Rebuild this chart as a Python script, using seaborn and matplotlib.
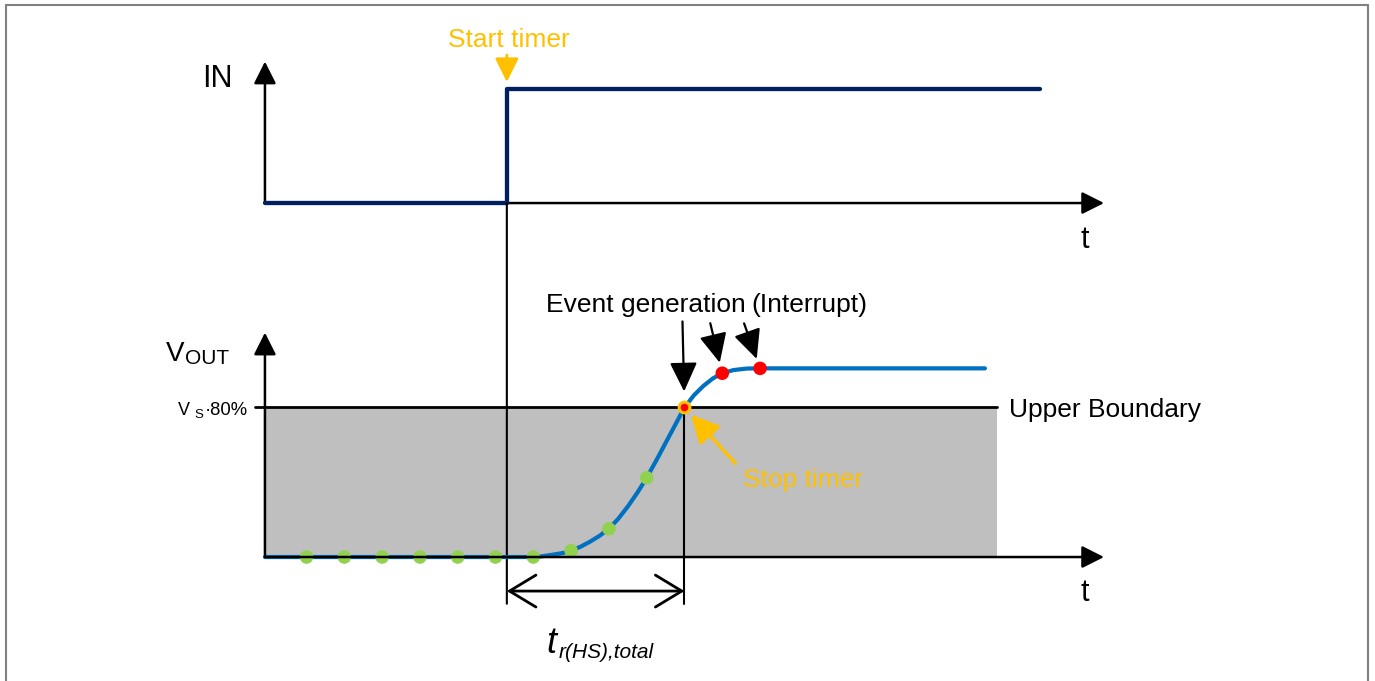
import pandas as pd
import matplotlib
matplotlib.use('Agg')
import matplotlib.pyplot as plt
import matplotlib.transforms as mtransforms
from matplotlib.patches import ConnectionPatch
from matplotlib.lines import Line2D
import seaborn as sns

# IN step signal (time in sample periods, logic level)
in_time = [0.0, 6.4, 6.4, 20.5]
in_level = [0, 0, 1, 1]

# VOUT rising edge (fraction of Vs)
vout_time = [0.0, 7.1, 7.3, 7.6, 7.9, 8.1, 8.35, 8.6, 8.85, 9.1, 9.35, 9.6, 9.85, 10.1,
             10.35, 10.6, 10.85, 11.1, 11.35, 11.6, 11.85, 12.1, 12.4, 12.75, 13.1, 19.05]
vout_level = [0.0, 0.0, 0.003, 0.012, 0.022, 0.034, 0.055, 0.082, 0.113, 0.151, 0.205, 0.27,
              0.343, 0.424, 0.515, 0.61, 0.705, 0.80, 0.865, 0.915, 0.955, 0.983, 1.0,
              1.008, 1.009, 1.009]

# sample instants and the value seen at each of them
sample_time = [1.1, 2.1, 3.1, 4.1, 5.1, 6.1, 7.1, 8.1, 9.1, 10.1, 11.1, 12.1, 13.1]
sample_level = [0, 0, 0, 0, 0, 0, 0, 0.034, 0.151, 0.424, 0.80, 0.983, 1.009]
sample_state = ['below'] * 10 + ['crossing', 'above', 'above']

threshold = 0.8          # Vs*80%
boundary_end = 19.37     # right end of the grey band
t_start = in_time[1]     # start timer
t_stop = sample_time[10]  # stop timer

navy = '#002060'
blue = '#0070C0'
green = '#92D050'
red = '#FF0000'
orange = '#FFC000'
grey = '#BFBFBF'

sns.set_theme(style='white')
plt.rcParams['font.family'] = ['Liberation Sans', 'DejaVu Sans']

W, H = 1375, 681
fig = plt.figure(figsize=(W / 100, H / 100), dpi=100)
# two full-size transparent axes, one per trace
ax_in = fig.add_axes([0, 0, 1, 1])
ax_out = fig.add_axes([0, 0, 1, 1])
for ax in (ax_in, ax_out):
    ax.set_xlim(-7.01, 29.37)
    ax.axis('off')
ax_in.set_ylim(-4.19, 1.78)
ax_out.set_ylim(-0.663, 2.979)

t_axis_end = 22.2
dim_bottom = -0.25
dim_level = -0.182


def arrow(ax, tip, tail, color='black', lw=1.8, hl=1.35, hw=0.68, shrink=0, tc='data'):
    ax.annotate('', xy=tip, xytext=tail, textcoords=tc,
                arrowprops=dict(arrowstyle=f'-|>,head_length={hl},head_width={hw}',
                                mutation_scale=10, color=color, lw=lw,
                                shrinkA=0, shrinkB=shrink), zorder=6)


# IN panel
arrow(ax_in, (0, 1.24), (0, 0))
arrow(ax_in, (t_axis_end, 0), (0, 0))
sns.lineplot(x=in_time, y=in_level, ax=ax_in, sort=False, estimator=None,
             color=navy, lw=3.1, solid_capstyle='round', zorder=7)
arrow(ax_in, (t_start, 1), (0, 34), color=orange, lw=2, hl=1.45, hw=0.72,
      shrink=5, tc='offset pixels')

# VOUT panel
ax_out.fill_between([0, boundary_end], 0, threshold, color=grey, lw=0, zorder=1)
ax_out.plot([-0.26, boundary_end], [threshold, threshold], color='black', lw=2, zorder=2)
arrow(ax_out, (0, 1.2), (0, 0))
arrow(ax_out, (t_axis_end, 0), (0, 0))
ax_out.plot([t_stop, t_stop], [threshold, dim_bottom], color='black', lw=1.5, zorder=2)
con = ConnectionPatch(xyA=(t_start, 0), coordsA=ax_in.transData,
                      xyB=(t_start, dim_bottom), coordsB=ax_out.transData,
                      color='black', lw=1.5, zorder=2)
ax_out.add_artist(con)
ax_out.annotate('', xy=(t_stop, dim_level), xytext=(t_start, dim_level),
                arrowprops=dict(arrowstyle='<->,head_length=1.9,head_width=1.15',
                                mutation_scale=10, color='black', lw=2,
                                shrinkA=0, shrinkB=0))

sns.lineplot(x=vout_time, y=vout_level, ax=ax_out, sort=False, estimator=None,
             color=blue, lw=3, solid_capstyle='round', solid_joinstyle='round', zorder=3)

samples = pd.DataFrame({'t': sample_time, 'v': sample_level, 'state': sample_state})
plain = samples[samples['state'] != 'crossing']
sns.scatterplot(data=plain, x='t', y='v', hue='state',
                palette={'below': green, 'above': red}, s=95, linewidth=0,
                legend=False, ax=ax_out, zorder=4)
cross = samples[samples['state'] == 'crossing']
sns.scatterplot(data=cross, x='t', y='v', color=red, edgecolor=orange, s=60,
                linewidth=2.2, legend=False, ax=ax_out, zorder=4)

# event arrows pointing at the samples above the boundary
ev = samples[samples['state'] != 'below']
for (t, v), off, sh in zip(ev[['t', 'v']].values, [(-2, 86), (-12, 50), (-16, 45)], [11.5, 7.8, 7.2]):
    arrow(ax_out, (t, v), off, lw=1.6, hl=1.8, hw=0.85, shrink=sh, tc='offset pixels')
arrow(ax_out, (t_stop, threshold), (51, -56), color=orange, lw=2.4, hl=1.7, hw=0.85,
      shrink=7, tc='offset pixels')

# labels placed in picture pixels
pix = mtransforms.Affine2D().scale(1 / W, -1 / H).translate(0, 1) + fig.transFigure


def label(x, y, s, size, color='black', ha='left', style='normal'):
    fig.text(x, y, s, transform=pix, fontsize=size, color=color, ha=ha,
             va='baseline', fontstyle=style)


label(202, 86.7, 'IN', 22)
label(448, 46.7, 'Start timer', 19, color=orange)
label(1085, 248, 't', 22, ha='center')
label(1085, 600.7, 't', 22, ha='center')
label(166, 361, 'V', 20)
label(185, 364, 'OUT', 15)
label(178, 415, 'V', 13)
label(194.5, 418, 'S', 9.5)
label(248, 415, '·80%', 13.3, ha='right')
label(1009, 416.7, 'Upper Boundary', 19)
label(546, 311.7, 'Event generation', 19)
label(867, 311.7, '(Interrupt)', 19, ha='right')
label(742.7, 486.7, 'Stop timer', 19, color=orange)
label(546, 653, 't', 26, style='italic')
label(559, 658, 'r(HS),total', 15, style='italic')

# outer frame
for xs, ys in [([6, 6], [5, 690]), ([6, 1368], [5, 5]), ([1368, 1368], [5, 690])]:
    fig.add_artist(Line2D(xs, ys, transform=pix, color='#808080', lw=1.5))

fig.savefig('out.png', dpi=100)
